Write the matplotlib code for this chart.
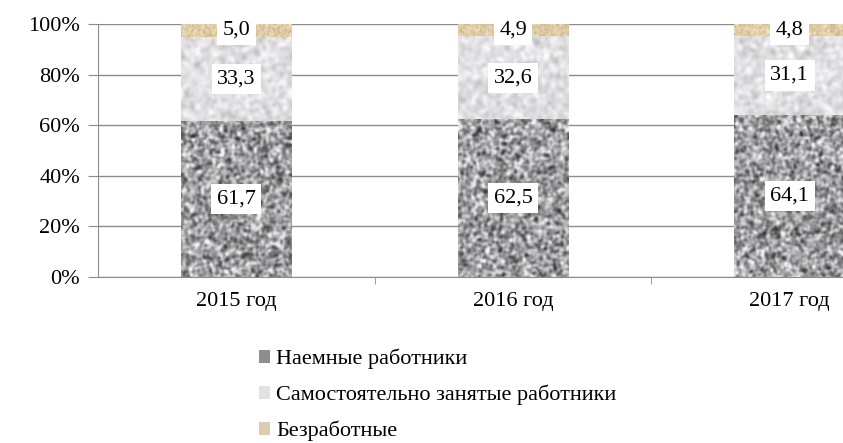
import numpy as np
import matplotlib
matplotlib.use("Agg")
import matplotlib.pyplot as plt
from matplotlib.patches import Patch

# данные
years = ["2015 год", "2016 год", "2017 год"]
hired = [61.7, 62.5, 64.1]
self_employed = [33.3, 32.6, 31.1]
unemployed = [5.0, 4.9, 4.8]
series_names = ["Наемные работники", "Самостоятельно занятые работники", "Безработные"]

plt.rcParams["font.family"] = ["Liberation Serif", "DejaVu Serif"]
FS = 16

rng = np.random.default_rng(3)


def smooth(a, passes):
    for _ in range(passes):
        a = (a + np.roll(a, 1, 0) + np.roll(a, -1, 0) + np.roll(a, 1, 1) + np.roll(a, -1, 1)) / 5
    a = (a - a.min()) / (a.max() - a.min())
    return a


def granite(h, w):
    n = smooth(rng.random((h, w)), 4)
    n = (n - n.mean()) / n.std()
    g = (158 + 34 * n).clip(60, 240) / 255
    return np.dstack([g, g, g * 1.01]).clip(0, 1)


def marble(h, w):
    n = smooth(rng.random((h, w)), 8)
    n = (n - n.mean()) / n.std()
    g = (224 + 10 * n) / 255
    return np.dstack([g, g, g + 0.012]).clip(0, 1)


def sand(h, w):
    n = smooth(rng.random((h, w)), 1)
    base = np.array([224, 206, 168]) / 255
    return (base[None, None, :] + (n[:, :, None] - 0.5) * 0.22).clip(0, 1)


fig = plt.figure(figsize=(8.43, 4.43), dpi=100)
ax = fig.add_axes([98 / 843, 166 / 443, 830 / 843, 253 / 443])

x = np.arange(len(years))
width = 0.40
bottoms = np.zeros(len(years))
for vals, tex in zip([hired, self_employed, unemployed], [granite, marble, sand]):
    bars = ax.bar(x, vals, width, bottom=bottoms, color="none", edgecolor="none", zorder=2)
    for bar in bars:
        x0, y0 = bar.get_x(), bar.get_y()
        w, h = bar.get_width(), bar.get_height()
        hp = max(int(h * 2.53), 4)
        img = tex(hp, 111)
        im = ax.imshow(img, extent=[x0, x0 + w, y0, y0 + h], aspect="auto",
                       interpolation="bilinear", zorder=2)
        im.set_clip_path(bar)
    for xi, b, v in zip(x, bottoms, vals):
        ax.text(xi, b + v / 2, f"{v:.1f}".replace(".", ","), ha="center", va="center",
                fontsize=FS, zorder=4,
                bbox=dict(facecolor="white", edgecolor="none", pad=4))
    bottoms = bottoms + np.array(vals)

ax.set_xlim(-0.5, 2.5)
ax.set_ylim(0, 100)
ax.set_yticks(range(0, 101, 20))
ax.set_yticklabels([f"{v}%" for v in range(0, 101, 20)], fontsize=FS)
ax.yaxis.grid(True, color="#8c8c8c", lw=1, zorder=1)
ax.set_axisbelow(True)
ax.set_xticks(x)
ax.set_xticklabels(years, fontsize=FS)
ax.set_xticks([0.5, 1.5], minor=True)
ax.tick_params(axis="x", which="major", length=0, pad=11)
ax.tick_params(axis="x", which="minor", length=5, color="#8c8c8c")
ax.tick_params(axis="y", length=7, color="#8c8c8c", pad=6)
for s in ["top", "right"]:
    ax.spines[s].set_visible(False)
for s in ["left", "bottom"]:
    ax.spines[s].set_color("#8c8c8c")

handles = [Patch(facecolor=c, edgecolor="none") for c in ["#8e8e8e", "#e2e2e4", "#dccdb0"]]
fig.legend(handles, series_names, loc="upper left", bbox_to_anchor=(243 / 843, 1 - 333 / 443),
           frameon=False, fontsize=FS, handlelength=0.5, handleheight=0.5,
           handletextpad=0.3, labelspacing=0.7, borderpad=0.2)

fig.savefig("out.png", dpi=100)
